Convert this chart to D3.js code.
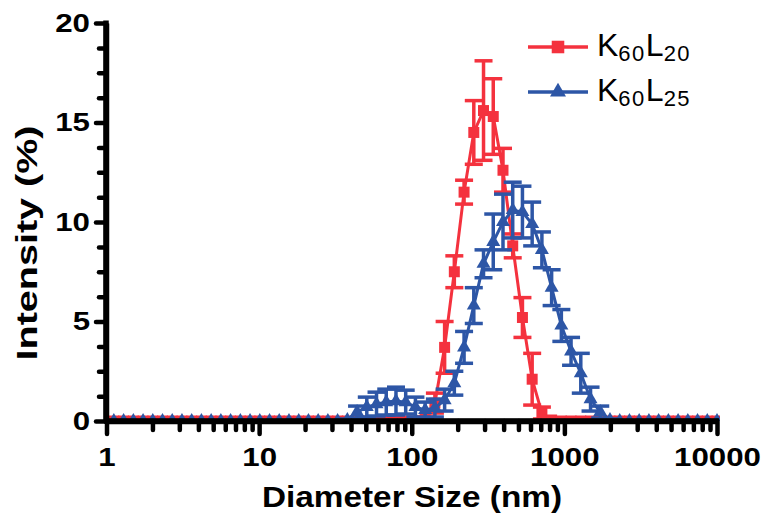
<!DOCTYPE html>
<html>
<head>
<meta charset="utf-8">
<script src="https://cdn.jsdelivr.net/npm/d3@7"></script>
<style>
body { margin: 0; background: #fff; }
svg { display: block; }
</style>
</head>
<body>
<svg width="761" height="514"></svg>
<script>
// DLS size bins (nm)
var sizes = [1.117, 1.294, 1.499, 1.736, 2.01, 2.328, 2.696, 3.122, 3.615, 4.187, 4.849, 5.615, 6.503, 7.531, 8.721,
  10.1, 11.7, 13.54, 15.69, 18.17, 21.04, 24.36, 28.21, 32.67, 37.84, 43.82, 50.75, 58.77, 68.06, 78.82, 91.28,
  105.7, 122.4, 141.8, 164.2, 190.1, 220.2, 255.0, 295.3, 342.0, 396.1, 458.7, 531.2, 615.1, 712.4, 825.0, 955.4,
  1106, 1281, 1484, 1718, 1990, 2305, 2669, 3091, 3580, 4145, 4801, 5560, 6439, 7456, 8635, 10000]

// K60L20 intensity (%) and SD
var k60l20 = [0, 0, 0, 0, 0, 0, 0, 0, 0, 0, 0, 0, 0, 0, 0, 0,
  0, 0, 0, 0, 0, 0, 0, 0, 0, 0, 0, 0, 0, 0, 0, 0,
  0.1, 0.9, 3.7, 7.5, 11.5, 14.5, 15.6, 15.3, 12.6, 8.8, 5.2, 2.1, 0.4, 0.05,
  0, 0, 0, 0, 0, 0, 0, 0, 0, 0, 0, 0, 0, 0, 0, 0, 0]
var k60l20sd = [0, 0, 0, 0, 0, 0, 0, 0, 0, 0, 0, 0, 0, 0, 0, 0,
  0, 0, 0, 0, 0, 0, 0, 0, 0, 0, 0, 0, 0, 0, 0, 0,
  0.1, 0.5, 1.3, 0.8, 0.6, 1.6, 2.5, 1.9, 1.1, 0.6, 1.0, 1.3, 0.3, 0.05,
  0, 0, 0, 0, 0, 0, 0, 0, 0, 0, 0, 0, 0, 0, 0, 0, 0]

// K60L25 intensity (%) and SD
var k60l25 = [0, 0, 0, 0, 0, 0, 0, 0, 0, 0, 0, 0, 0, 0, 0, 0, 0, 0, 0, 0, 0, 0, 0, 0,
  0.05, 0.45, 0.7, 0.85, 0.95, 1.0, 0.95, 0.7, 0.55, 0.65, 1.05, 1.9, 3.7, 5.8,
  7.9, 9.0, 10.0, 10.6, 10.5, 9.9, 8.6, 6.7, 4.8, 3.5, 2.4, 1.1, 0.45, 0.05,
  0, 0, 0, 0, 0, 0, 0, 0, 0, 0, 0]
var k60l25sd = [0, 0, 0, 0, 0, 0, 0, 0, 0, 0, 0, 0, 0, 0, 0, 0, 0, 0, 0, 0, 0, 0, 0, 0,
  0.05, 0.3, 0.5, 0.6, 0.65, 0.7, 0.6, 0.5, 0.4, 0.45, 0.55, 0.6, 0.8, 0.9,
  0.7, 1.4, 1.4, 1.4, 1.3, 1.1, 0.9, 0.9, 0.8, 0.7, 1.0, 0.6, 0.3, 0.05,
  0, 0, 0, 0, 0, 0, 0, 0, 0, 0, 0]

var xMajor = [1, 10, 100, 1000, 10000]
var yMajor = [0, 5, 10, 15, 20]

var svg = d3.select('svg')
var font = '"Liberation Sans", Arial, sans-serif'
var red = '#f4323e', blue = '#2d56a6'

var x = d3.scaleLog().domain([1, 10000]).range([106.5, 717])
var y = d3.scaleLinear().domain([0, 20]).range([421, 23])

var xMinor = []
xMajor.slice(0, -1).forEach(d => { for (var k = 2; k < 10; k++) xMinor.push(d * k) })
var yMinor = d3.range(0, 20, 1.25).filter(d => d % 5 != 0)

svg.append('clipPath').attr('id', 'plot')
  .append('rect').attr('x', 104).attr('y', 0).attr('width', 616).attr('height', 421)

var series = [
  {name: ['K', '60', 'L', '20'], values: k60l20, sd: k60l20sd, color: red, symbol: d3.symbolSquare, size: 121},
  {name: ['K', '60', 'L', '25'], values: k60l25, sd: k60l25sd, color: blue, symbol: d3.symbolTriangle, size: 85}
]

var line = d3.line()
  .x((d, i) => x(sizes[i]))
  .y(d => y(d))

var plot = svg.append('g').attr('clip-path', 'url(#plot)')

series.forEach(s => {
  var g = plot.append('g')
  g.append('path')
    .attr('fill', 'none')
    .attr('stroke', s.color)
    .attr('stroke-width', 3)
    .attr('d', line(s.values))
  var eb = g.append('g')
    .attr('stroke', s.color)
    .attr('stroke-width', 3.5)
    .selectAll('g')
    .data(s.values.map((v, i) => ({x: sizes[i], v: v, sd: s.sd[i]})).filter(d => d.sd > 0))
    .enter().append('g')
  eb.append('line')
    .attr('x1', d => x(d.x)).attr('x2', d => x(d.x))
    .attr('y1', d => y(d.v - d.sd)).attr('y2', d => y(d.v + d.sd))
  eb.append('line')
    .attr('x1', d => x(d.x) - 9).attr('x2', d => x(d.x) + 9)
    .attr('y1', d => y(d.v + d.sd)).attr('y2', d => y(d.v + d.sd))
  eb.append('line')
    .attr('x1', d => x(d.x) - 9).attr('x2', d => x(d.x) + 9)
    .attr('y1', d => y(d.v - d.sd)).attr('y2', d => y(d.v - d.sd))
  g.append('g').selectAll('path')
    .data(s.values)
    .enter().append('path')
    .attr('fill', s.color)
    .attr('transform', (d, i) => `translate(${x(sizes[i])},${y(d)})`)
    .attr('d', d3.symbol().type(s.symbol).size(s.size))
})

// stretch text horizontally like the wide bold face in the figure
function stretch(sel, k) {
  sel.each(function() {
    var w = this.getComputedTextLength()
    d3.select(this).attr('textLength', w * k).attr('lengthAdjust', 'spacingAndGlyphs')
  })
}

function styleAxis(g) {
  g.select('.domain').attr('stroke-width', 5.5)
  g.selectAll('.tick line').attr('stroke-width', 4.5).attr('stroke-linecap', 'round')
  g.selectAll('.tick text')
    .attr('font-family', font)
    .attr('font-weight', 'bold')
    .attr('font-size', 25)
    .attr('fill', '#000')
}

// y axis
svg.append('g')
  .attr('transform', 'translate(106,0)')
  .call(d3.axisLeft(y).tickValues(yMinor).tickSize(7).tickSizeOuter(0).tickFormat(''))
  .call(styleAxis)
var yAxis = svg.append('g')
  .attr('transform', 'translate(106,0)')
  .call(d3.axisLeft(y).tickValues(yMajor).tickSize(10).tickSizeOuter(0).tickPadding(6))
  .call(styleAxis)
yAxis.select('.domain').attr('d', 'M0,20.5V423')

// x axis
svg.append('g')
  .attr('transform', 'translate(0,421)')
  .call(d3.axisBottom(x).tickValues(xMinor).tickSize(9).tickSizeOuter(0).tickFormat(''))
  .call(styleAxis)
var xAxis = svg.append('g')
  .attr('transform', 'translate(0,421)')
  .call(d3.axisBottom(x).tickValues(xMajor).tickSize(13).tickSizeOuter(0).tickPadding(14).tickFormat(d3.format('d')))
  .call(styleAxis)
xAxis.select('.domain').attr('d', 'M104,0H719')

stretch(yAxis.selectAll('.tick text'), 1.25)
stretch(xAxis.selectAll('.tick text'), 1.25)

// axis titles
svg.append('text')
  .attr('x', 412).attr('y', 507)
  .attr('text-anchor', 'middle')
  .attr('font-family', font).attr('font-weight', 'bold').attr('font-size', 30)
  .text('Diameter Size (nm)')
  .attr('textLength', 300).attr('lengthAdjust', 'spacingAndGlyphs')

svg.append('text')
  .attr('transform', 'translate(37,243) rotate(-90)')
  .attr('text-anchor', 'middle')
  .attr('font-family', font).attr('font-weight', 'bold').attr('font-size', 30)
  .text('Intensity (%)')
  .attr('textLength', 235).attr('lengthAdjust', 'spacingAndGlyphs')

// legend
var legend = svg.append('g')
series.forEach((s, i) => {
  var ly = 47 + i * 45
  var lg = legend.append('g').attr('transform', `translate(0,${ly})`)
  lg.append('line')
    .attr('x1', 528).attr('x2', 588)
    .attr('stroke', s.color).attr('stroke-width', 3.5)
  lg.append('path')
    .attr('transform', 'translate(558,0)')
    .attr('fill', s.color)
    .attr('d', d3.symbol().type(s.symbol).size(s.size * 1.3))
  var t = lg.append('text')
    .attr('x', 597).attr('y', 9)
    .attr('font-family', font).attr('font-size', 32)
    .attr('fill', '#000')
  t.append('tspan').text(s.name[0])
  t.append('tspan').attr('font-size', 22).attr('dy', 5).attr('letter-spacing', 1.5).text(s.name[1])
  t.append('tspan').attr('dy', -5).text(s.name[2])
  t.append('tspan').attr('font-size', 22).attr('dy', 5).attr('letter-spacing', 1.5).text(s.name[3])
})
</script>
</body>
</html>
